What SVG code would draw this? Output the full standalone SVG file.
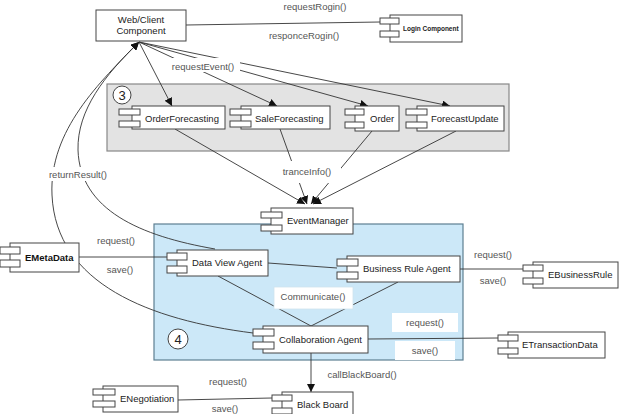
<svg xmlns="http://www.w3.org/2000/svg" width="623" height="414" viewBox="0 0 623 414">
<style>
.box{fill:#fff;stroke:#444;stroke-width:1}
.tab{fill:#fff;stroke:#444;stroke-width:1}
.nt{font-family:"Liberation Sans",Arial,sans-serif;font-size:9.5px;fill:#222}
.lb{font-family:"Liberation Sans",Arial,sans-serif;font-size:9.5px;fill:#555}
.ln{fill:none;stroke:#333;stroke-width:0.9}
.wb{fill:#fff;stroke:none}
</style>
<defs>
<marker id="ah" viewBox="0 0 10 10" refX="10" refY="5" markerWidth="8" markerHeight="8" orient="auto" markerUnits="userSpaceOnUse">
<path d="M0,0 L10,5 L0,10 z" fill="#111"/>
</marker>
</defs>
<rect width="623" height="414" fill="#fff"/>

<!-- containers -->
<g id="group3">
<rect x="107" y="84" width="402" height="67" fill="#e3e3e3" stroke="#888" stroke-width="1.2"/>
<circle cx="122" cy="95" r="9" fill="#fff" stroke="#444"/>
<text x="122" y="99.5" text-anchor="middle" font-family="Liberation Sans,Arial,sans-serif" font-size="13" fill="#222">3</text>
</g>
<g id="group4">
<rect x="154" y="224" width="309" height="136" fill="#cce8f8" stroke="#5d7f92" stroke-width="1.2"/>
<circle cx="178" cy="339" r="10" fill="#fff" stroke="#444"/>
<text x="178" y="344" text-anchor="middle" font-family="Liberation Sans,Arial,sans-serif" font-size="13" fill="#222">4</text>
</g>

<!-- connectors -->
<g id="connectors">
<line class="ln" x1="186" y1="25" x2="380" y2="22"/>
<line class="ln" x1="139" y1="42" x2="172" y2="106" marker-end="url(#ah)"/>
<line class="ln" x1="139" y1="42" x2="277" y2="106" marker-end="url(#ah)"/>
<line class="ln" x1="139" y1="42" x2="368" y2="106" marker-end="url(#ah)"/>
<line class="ln" x1="139" y1="42" x2="450" y2="106" marker-end="url(#ah)"/>
<path class="ln" d="M253,333 C150,320 56,284 52,195 C49,130 100,82 139,42" marker-end="url(#ah)"/>
<path class="ln" d="M215,249 C140,236 80,210 78,150 C77,110 105,75 139,42" marker-end="url(#ah)"/>
<line class="ln" x1="175" y1="129" x2="305" y2="204" marker-end="url(#ah)"/>
<line class="ln" x1="280" y1="129" x2="307" y2="204" marker-end="url(#ah)"/>
<line class="ln" x1="372" y1="131" x2="311" y2="204" marker-end="url(#ah)"/>
<line class="ln" x1="456" y1="131" x2="313" y2="204" marker-end="url(#ah)"/>
<line class="ln" x1="79" y1="257" x2="167" y2="257"/>
<line class="ln" x1="268" y1="263" x2="337" y2="268"/>
<line class="ln" x1="460" y1="269" x2="523" y2="269"/>
<line class="ln" x1="218" y1="276" x2="311" y2="326"/>
<line class="ln" x1="398" y1="282" x2="311" y2="326"/>
<line class="ln" x1="368" y1="339" x2="498" y2="338"/>
<line class="ln" x1="311" y1="353" x2="311" y2="392" marker-end="url(#ah)"/>
<line class="ln" x1="178" y1="400" x2="272" y2="398"/>
</g>

<!-- labels -->
<g id="labels">
<text class="lb" x="315" y="10" text-anchor="middle">requestRogin()</text>
<text class="lb" x="304" y="39" text-anchor="middle">responceRogin()</text>
<rect class="wb" x="168" y="58" width="72" height="14"/>
<text class="lb" x="203" y="70" text-anchor="middle">requestEvent()</text>
<rect class="wb" x="46" y="167" width="64" height="14"/>
<text class="lb" x="78" y="178" text-anchor="middle">returnResult()</text>
<rect class="wb" x="279" y="161" width="62" height="22"/>
<text class="lb" x="307" y="175" text-anchor="middle">tranceInfo()</text>
<text class="lb" x="116" y="244" text-anchor="middle">request()</text>
<text class="lb" x="120" y="273" text-anchor="middle">save()</text>
<text class="lb" x="493" y="258" text-anchor="middle">request()</text>
<text class="lb" x="493" y="284" text-anchor="middle">save()</text>
<rect x="274" y="287" width="79" height="22" fill="#fff" stroke="#cfe3ee" stroke-width="0.8"/>
<text class="lb" x="313" y="300" text-anchor="middle">Communicate()</text>
<rect x="392" y="313" width="66" height="19" fill="#fff"/>
<text class="lb" x="425" y="326" text-anchor="middle">request()</text>
<rect x="395" y="341" width="60" height="19" fill="#fff"/>
<text class="lb" x="425" y="354" text-anchor="middle">save()</text>
<text class="lb" x="362" y="378" text-anchor="middle">callBlackBoard()</text>
<text class="lb" x="228" y="385" text-anchor="middle">request()</text>
<text class="lb" x="225" y="412" text-anchor="middle">save()</text>
</g>

<!-- nodes -->
<g id="webClient">
<rect class="box" x="96" y="10" width="90" height="31"/>
<text class="nt" x="141" y="23" text-anchor="middle">Web/Client</text>
<text class="nt" x="141" y="34" text-anchor="middle">Component</text>
</g>
<g id="loginComponent">
<rect class="box" x="390" y="15" width="72" height="27"/>
<rect class="tab" x="380" y="18" width="19" height="6"/>
<rect class="tab" x="380" y="31" width="19" height="6"/>
<text x="403" y="31" font-family="Liberation Sans,Arial,sans-serif" font-size="6.5" font-weight="bold" fill="#222">Login Component</text>
</g>
<g id="orderForecasting">
<rect class="box" x="132" y="106" width="93" height="23"/>
<rect class="tab" x="119" y="109" width="21" height="6"/>
<rect class="tab" x="119" y="121" width="21" height="6"/>
<text class="nt" x="145" y="121.5">OrderForecasting</text>
</g>
<g id="saleForecasting">
<rect class="box" x="241" y="106" width="89" height="23"/>
<rect class="tab" x="230" y="109" width="21" height="6"/>
<rect class="tab" x="230" y="121" width="21" height="6"/>
<text class="nt" x="255" y="121.5">SaleForecasting</text>
</g>
<g id="order">
<rect class="box" x="355" y="106" width="44" height="25"/>
<rect class="tab" x="345" y="109" width="19" height="6"/>
<rect class="tab" x="345" y="122" width="19" height="6"/>
<text class="nt" x="370" y="121.5">Order</text>
</g>
<g id="forecastUpdate">
<rect class="box" x="417" y="106" width="87" height="25"/>
<rect class="tab" x="406" y="109" width="21" height="6"/>
<rect class="tab" x="406" y="122" width="21" height="6"/>
<text class="nt" x="431" y="121.5">ForecastUpdate</text>
</g>
<g id="eventManager">
<rect class="box" x="271" y="208" width="82" height="26"/>
<rect class="tab" x="261" y="212" width="21" height="6"/>
<rect class="tab" x="261" y="225" width="21" height="6"/>
<text class="nt" x="287" y="224">EventManager</text>
</g>
<g id="dataViewAgent">
<rect class="box" x="177" y="250" width="91" height="26"/>
<rect class="tab" x="167" y="253" width="20" height="7"/>
<rect class="tab" x="167" y="266" width="20" height="7"/>
<text class="nt" x="192" y="266">Data View Agent</text>
</g>
<g id="businessRuleAgent">
<rect class="box" x="347" y="256" width="113" height="26"/>
<rect class="tab" x="337" y="259" width="21" height="7"/>
<rect class="tab" x="337" y="272" width="21" height="7"/>
<text class="nt" x="363" y="272" fill="#444">Business Rule Agent</text>
</g>
<g id="collaborationAgent">
<rect class="box" x="263" y="326" width="105" height="27"/>
<rect class="tab" x="253" y="329" width="21" height="7"/>
<rect class="tab" x="253" y="342" width="21" height="7"/>
<text class="nt" x="279" y="342.5">Collaboration Agent</text>
</g>
<g id="eMetaData">
<rect class="box" x="10" y="243" width="69" height="29"/>
<rect class="tab" x="0" y="247" width="20" height="7"/>
<rect class="tab" x="0" y="260" width="20" height="7"/>
<text x="25" y="261" font-family="Liberation Sans,Arial,sans-serif" font-size="9.5" font-weight="bold" fill="#111">EMetaData</text>
</g>
<g id="eBusinessRule">
<rect class="box" x="533" y="262" width="85" height="26"/>
<rect class="tab" x="523" y="265" width="20" height="6"/>
<rect class="tab" x="523" y="278" width="20" height="6"/>
<text class="nt" x="548" y="278">EBusinessRule</text>
</g>
<g id="eTransactionData">
<rect class="box" x="508" y="332" width="97" height="26"/>
<rect class="tab" x="498" y="335" width="20" height="6"/>
<rect class="tab" x="498" y="348" width="20" height="6"/>
<text class="nt" x="522" y="348">ETransactionData</text>
</g>
<g id="eNegotiation">
<rect class="box" x="103" y="386" width="75" height="26"/>
<rect class="tab" x="93" y="389" width="22" height="6"/>
<rect class="tab" x="93" y="401" width="22" height="6"/>
<text class="nt" x="120" y="402">ENegotiation</text>
</g>
<g id="blackBoard">
<rect class="box" x="282" y="392" width="71" height="30"/>
<rect class="tab" x="272" y="395" width="20" height="6"/>
<rect class="tab" x="272" y="408" width="20" height="6"/>
<text class="nt" x="297" y="408">Black Board</text>
</g>
</svg>
